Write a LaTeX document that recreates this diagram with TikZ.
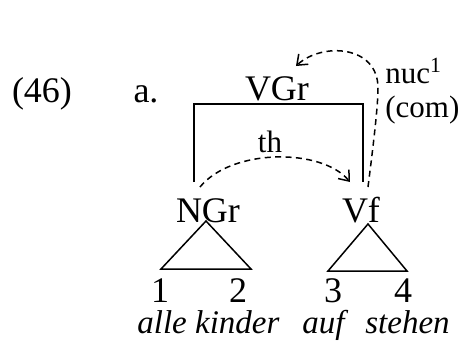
\documentclass[tikz,border=0pt]{standalone}
\usepackage{fontspec}
\setmainfont{Liberation Serif}
\usepackage{tikz}
\usetikzlibrary{arrows.meta,calc}

\begin{document}
\begin{tikzpicture}[x=0.5pt,y=-0.5pt,
  word/.style={inner sep=0pt,anchor=base,font=\fontsize{18}{20}\selectfont},
  gloss/.style={inner sep=0pt,anchor=base west,font=\fontsize{16.5}{18}\selectfont\itshape},
  lbl/.style={inner sep=0pt,anchor=base west,font=\fontsize{15.5}{17}\selectfont},
  tree/.style={line width=0.75pt},
  rel/.style={-{Straight Barb[length=4.5pt,width=7pt]},line width=0.75pt,dash pattern=on 3pt off 2.2pt}
]
\useasboundingbox (0,0) rectangle (462,349);
% example number
\node[word] (ex)  at (42,102)  {(46)};
\node[word] (sub) at (146,102) {a.};
% top node and the two daughters
\node[word] (vgr) at (277,100) {VGr};
\node[word] (ngr) at (208,222) {NGr};
\node[word] (vf)  at (361,222) {Vf};
% bracket joining NGr and Vf under VGr
\coordinate (bl) at (194,182);
\coordinate (br) at (363,182);
\draw[tree] (bl) -- ++(0,-78) -| (br);
% triangles
\coordinate (ta) at (206,221);
\coordinate (tb) at (161,269);
\coordinate (tc) at (251,269);
\coordinate (ua) at (368,224);
\coordinate (ub) at (328,271);
\coordinate (uc) at (407,271);
\draw[tree] (ta) -- (tb) -- (tc) -- cycle;
\draw[tree] (ua) -- (ub) -- (uc) -- cycle;
% terminals
\node[word] (w1) at (160,302) {1};
\node[word] (w2) at (238,302) {2};
\node[word] (w3) at (333,302) {3};
\node[word] (w4) at (403,302) {4};
\node[gloss] (g1) at (137,333) {alle kinder};
\node[gloss] (g2) at (302,333) {auf};
\node[gloss] (g3) at (365,333) {stehen};
% relation labels
\node[lbl,anchor=base] (th) at (270,152) {th};
\node[lbl] (nuc) at (385,83)  {nuc\textsuperscript{1}};
\node[lbl] (com) at (385,117) {(com)};
% dependency arcs
\coordinate (ns) at (200,187);
\coordinate (ve) at (350,182);
\coordinate (vs) at (368,187);
\coordinate (ge) at (296,66);
\draw[rel] (ns) .. controls (232,148) and (322,148) .. (ve);
\draw[rel] (vs) .. controls (374,140) and (378,105) .. (378,88)
  .. controls (378,45) and (322,42) .. (ge);
\end{tikzpicture}
\end{document}
